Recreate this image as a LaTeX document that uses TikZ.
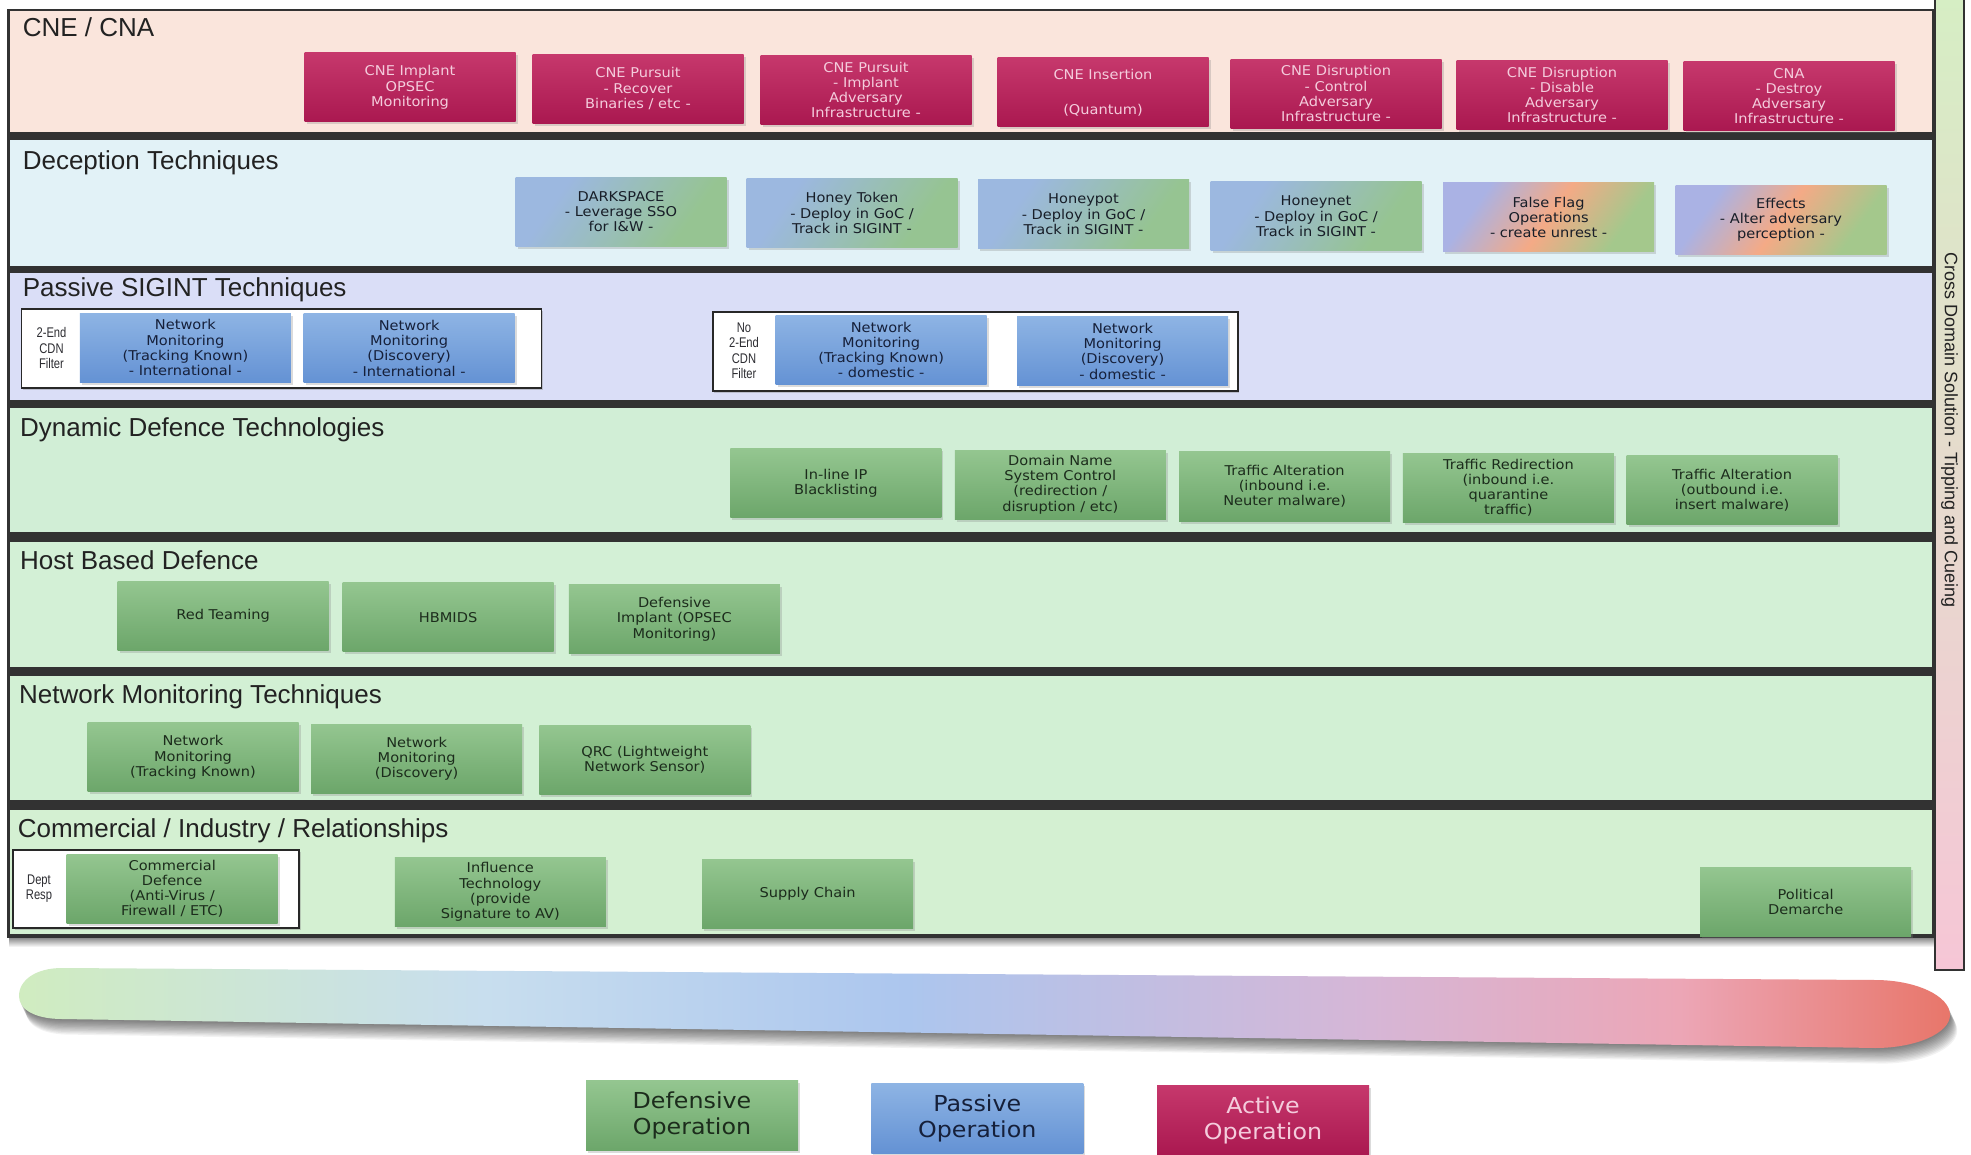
\documentclass[tikz,border=0pt]{standalone}
\usepackage{fontspec}
\usetikzlibrary{shadows}
\newfontfamily\titlefont{Liberation Sans}
\newfontfamily\boxfont[FakeStretch=1.08]{DejaVu Sans}
\newfontfamily\labfont[FakeStretch=0.8]{Liberation Sans}

% band fills
\definecolor{bandCNE}{RGB}{250,229,220}
\definecolor{bandDEC}{RGB}{226,242,247}
\definecolor{bandPAS}{RGB}{218,222,247}
\definecolor{bandDYN}{RGB}{209,238,214}
\definecolor{bandHOST}{RGB}{211,240,214}
\definecolor{bandNET}{RGB}{210,240,212}
\definecolor{bandCOM}{RGB}{212,240,210}
\definecolor{frame}{RGB}{50,50,50}
\definecolor{titleTxt}{RGB}{34,34,34}
% operation boxes
\definecolor{cneT}{RGB}{198,56,108}
\definecolor{cneB}{RGB}{170,24,80}
\definecolor{cneTxt}{RGB}{244,204,220}
\definecolor{defT}{RGB}{148,198,144}
\definecolor{defB}{RGB}{108,166,106}
\definecolor{defTxt}{RGB}{28,44,28}
\definecolor{pasT}{RGB}{142,180,228}
\definecolor{pasB}{RGB}{100,146,212}
\definecolor{pasTxt}{RGB}{22,32,58}
\definecolor{decA}{RGB}{156,184,224}
\definecolor{decB}{RGB}{150,196,146}
\definecolor{flagA}{RGB}{170,178,228}
\definecolor{flagM}{RGB}{244,170,134}
\definecolor{flagB}{RGB}{164,200,140}
\definecolor{decTxt}{RGB}{24,30,40}
\definecolor{grpLine}{RGB}{40,40,40}
\definecolor{labTxt}{RGB}{45,45,50}
% spectrum bar and side bar
\definecolor{specA}{RGB}{208,236,192}
\definecolor{specB}{RGB}{200,222,238}
\definecolor{specC}{RGB}{172,198,238}
\definecolor{specD}{RGB}{214,182,214}
\definecolor{specE}{RGB}{236,166,182}
\definecolor{specF}{RGB}{232,118,106}
\definecolor{barT}{RGB}{214,238,196}
\definecolor{barB}{RGB}{246,198,214}

\pgfdeclarehorizontalshading{spectrum}{100bp}{color(0bp)=(specA); color(25bp)=(specA); color(37bp)=(specB); color(48bp)=(specC); color(60bp)=(specD); color(68bp)=(specE); color(75bp)=(specF); color(100bp)=(specF)}
\pgfdeclarehorizontalshading{decoshade}{100bp}{color(0bp)=(decA); color(30bp)=(decA); color(70bp)=(decB); color(100bp)=(decB)}
\pgfdeclarehorizontalshading{flagshade}{100bp}{color(0bp)=(flagA); color(28bp)=(flagA); color(50bp)=(flagM); color(72bp)=(flagB); color(100bp)=(flagB)}

\tikzset{
  bandtitle/.style={anchor=base west, inner sep=0pt, text=titleTxt, font=\titlefont\fontsize{26}{30}\selectfont},
  opbox/.style={minimum width=211pt, minimum height=69pt, inner sep=1pt, align=center,
    font=\boxfont\fontsize{13.5}{15.2}\selectfont,
    drop shadow={shadow xshift=2pt, shadow yshift=-2.5pt, opacity=0.28}},
  activebox/.style={opbox, top color=cneT, bottom color=cneB, text=cneTxt},
  defbox/.style={opbox, top color=defT, bottom color=defB, text=defTxt},
  pasbox/.style={opbox, top color=pasT, bottom color=pasB, text=pasTxt},
  decbox/.style={opbox, shading=decoshade, shading angle=-35, text=decTxt},
  flagbox/.style={opbox, shading=flagshade, shading angle=-35, text=decTxt},
  filtergroup/.style={fill=white, draw=grpLine, line width=1.6pt, inner sep=0pt,
    drop shadow={shadow xshift=1.5pt, shadow yshift=-2pt, opacity=0.35}},
  filterlabel/.style={align=center, inner sep=0pt, text=labTxt, font=\labfont\fontsize{14}{15.5}\selectfont},
  legendbox/.style={opbox, minimum width=212pt, minimum height=70pt, font=\boxfont\fontsize{22}{26}\selectfont},
}

\begin{document}
\begin{tikzpicture}[x=1pt,y=-1pt]
\useasboundingbox (0,0) rectangle (1971,1155);
\clip (0,0) rectangle (1971,1155);
\fill[white] (0,0) rectangle (1971,1155);

% frame and the seven capability bands
\shade[top color=black!55, bottom color=white] (9,936) rectangle (1934,947);
\fill[frame] (7,9) rectangle (1935,938);
\fill[bandCNE]  (10,11.5) rectangle (1932,132.5);
\fill[bandDEC]  (10,140)  rectangle (1932,266);
\fill[bandPAS]  (10,273)  rectangle (1932,400);
\fill[bandDYN]  (10,408)  rectangle (1932,532);
\fill[bandHOST] (10,542)  rectangle (1932,667);
\fill[bandNET]  (10,676)  rectangle (1932,800);
\fill[bandCOM]  (10,810)  rectangle (1932,934);

% cross domain side bar
\shade[top color=barT, bottom color=barB, draw=frame, line width=1.5pt] (1935,-5) rectangle (1964,970);
\node[rotate=-90, text=titleTxt, font=\titlefont\fontsize{18}{20}\selectfont] (cds) at (1949.5,430)
  {Cross Domain Solution - Tipping and Cueing};

% band titles
\node[bandtitle] (tCNE)  at (22.6,37)    {CNE / CNA};
\node[bandtitle] (tDEC)  at (22.6,169.5) {Deception Techniques};
\node[bandtitle] (tPAS)  at (22.6,297)   {Passive SIGINT Techniques};
\node[bandtitle] (tDYN)  at (20,436)     {Dynamic Defence Technologies};
\node[bandtitle] (tHOST) at (20,569.5)   {Host Based Defence};
\node[bandtitle] (tNET)  at (18.9,703.5) {Network Monitoring Techniques};
\node[bandtitle] (tCOM)  at (17.6,837.5) {Commercial / Industry / Relationships};

% CNE / CNA
\node[activebox] (cne1) at (410,87.4)   {CNE Implant\\OPSEC\\Monitoring};
\node[activebox] (cne2) at (638,88.6)   {CNE Pursuit\\- Recover\\Binaries / etc -};
\node[activebox] (cne3) at (866,89.9)   {CNE Pursuit\\- Implant\\Adversary\\Infrastructure -};
\node[activebox] (cne4) at (1103,92.4)  {CNE Insertion\\[20pt](Quantum)};
\node[activebox] (cne5) at (1336,93.6)  {CNE Disruption\\- Control\\Adversary\\Infrastructure -};
\node[activebox] (cne6) at (1562,94.9)  {CNE Disruption\\- Disable\\Adversary\\Infrastructure -};
\node[activebox] (cne7) at (1789,96.2)  {CNA\\- Destroy\\Adversary\\Infrastructure -};

% Deception techniques
\node[decbox]  (dec1) at (621,211.8)    {DARKSPACE\\- Leverage SSO\\for I\&W -};
\node[decbox]  (dec2) at (852,213.1)    {Honey Token\\- Deploy in GoC /\\Track in SIGINT -};
\node[decbox]  (dec3) at (1083.5,214.3) {Honeypot\\- Deploy in GoC /\\Track in SIGINT -};
\node[decbox]  (dec4) at (1316,216.2)   {Honeynet\\- Deploy in GoC /\\Track in SIGINT -};
\node[flagbox] (dec5) at (1548.6,217.5) {False Flag\\Operations\\- create unrest -};
\node[flagbox] (dec6) at (1781,220)     {Effects\\- Alter adversary\\perception -};

% Passive SIGINT techniques
\node[filtergroup, minimum width=520pt, minimum height=79pt] (grpA) at (281.6,348.8) {};
\node[filtergroup, minimum width=525pt, minimum height=79pt] (grpB) at (975.4,351.3) {};
\node[filterlabel] (labA) at (51.5,348.2) {2-End\\CDN\\Filter};
\node[filterlabel] (labB) at (744,350.7)  {No\\2-End\\CDN\\Filter};
\node[pasbox] (pas1) at (185.4,347.6)  {Network\\Monitoring\\(Tracking Known)\\- International -};
\node[pasbox] (pas2) at (409.2,348.2)  {Network\\Monitoring\\(Discovery)\\- International -};
\node[pasbox] (pas3) at (881.2,350.1)  {Network\\Monitoring\\(Tracking Known)\\- domestic -};
\node[pasbox] (pas4) at (1122.5,351.3) {Network\\Monitoring\\(Discovery)\\- domestic -};

% Dynamic defence technologies
\node[defbox] (dyn1) at (835.9,483.3)  {In-line IP\\Blacklisting};
\node[defbox] (dyn2) at (1060.3,484.6) {Domain Name\\System Control\\(redirection /\\disruption / etc)};
\node[defbox] (dyn3) at (1284.7,486.5) {Traffic Alteration\\(inbound i.e.\\Neuter malware)};
\node[defbox] (dyn4) at (1508.4,487.7) {Traffic Redirection\\(inbound i.e.\\quarantine\\traffic)};
\node[defbox] (dyn5) at (1732.1,490.2) {Traffic Alteration\\(outbound i.e.\\insert malware)};

% Host based defence
\node[defbox] (host1) at (223.1,615.9) {Red Teaming};
\node[defbox] (host2) at (448.1,617.2) {HBMIDS};
\node[defbox] (host3) at (674.4,619.1) {Defensive\\Implant (OPSEC\\Monitoring)};

% Network monitoring techniques
\node[defbox] (net1) at (193,757.3)   {Network\\Monitoring\\(Tracking Known)};
\node[defbox] (net2) at (416.7,758.6) {Network\\Monitoring\\(Discovery)};
\node[defbox] (net3) at (644.8,759.9) {QRC (Lightweight\\Network Sensor)};

% Commercial / industry / relationships
\node[filtergroup, minimum width=286pt, minimum height=78pt] (grpC) at (156.1,888.7) {};
\node[filterlabel] (labC) at (39,888.7) {Dept\\Resp};
\node[defbox] (com1) at (172.2,888.7)  {Commercial\\Defence\\(Anti-Virus /\\Firewall / ETC)};
\node[defbox] (com2) at (500.3,891.9)  {Influence\\Technology\\(provide\\Signature to AV)};
\node[defbox] (com3) at (807.6,893.7)  {Supply Chain};
\node[defbox] (com4) at (1805.7,901.9) {Political\\Demarche};

% defensive-to-active spectrum bar with its soft shadow
\foreach \k in {1,...,12}{
  \fill[black, opacity=0.05, shift={(0.6*\k,1.3*\k)}]
    (62,968) -- (1875,980) .. controls (1916,980) and (1950,996) .. (1950,1015)
    .. controls (1950,1033) and (1916,1048) .. (1875,1048) -- (62,1019)
    .. controls (36,1019) and (19,1010) .. (19,996)
    .. controls (19,980) and (36,968) .. (62,968) -- cycle;
}
\shade[shading=spectrum]
    (62,968) -- (1875,980) .. controls (1916,980) and (1950,996) .. (1950,1015)
    .. controls (1950,1033) and (1916,1048) .. (1875,1048) -- (62,1019)
    .. controls (36,1019) and (19,1010) .. (19,996)
    .. controls (19,980) and (36,968) .. (62,968) -- cycle;

% legend
\node[legendbox, top color=defT, bottom color=defB, text=defTxt] (legDef) at (692,1115.6)  {Defensive\\Operation};
\node[legendbox, top color=pasT, bottom color=pasB, text=pasTxt] (legPas) at (977.3,1118.1) {Passive\\Operation};
\node[legendbox, top color=cneT, bottom color=cneB, text=cneTxt] (legAct) at (1263,1120.5)  {Active\\Operation};
\end{tikzpicture}
\end{document}
